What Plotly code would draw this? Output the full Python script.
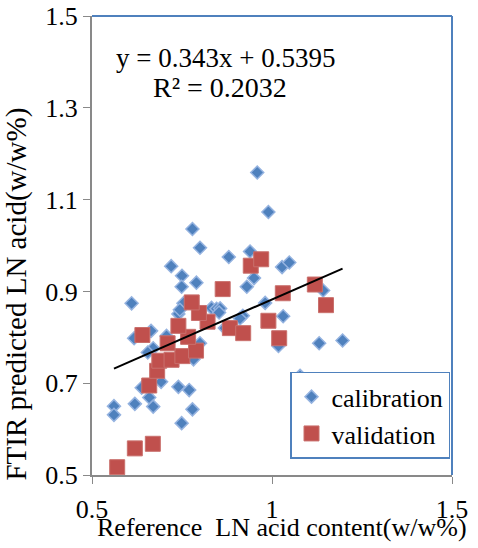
import plotly.graph_objects as go

# Calibration set (reference, predicted)
cal_x = [0.959, 0.990, 0.779, 0.800, 0.880, 0.939, 0.720, 1.028, 1.048, 0.750,
         0.950, 0.790, 0.749, 0.930, 1.142, 0.610, 0.754, 0.981, 0.832, 0.846,
         0.856, 0.740, 0.853, 0.919, 1.031, 0.911, 0.869, 0.664, 0.617, 0.707,
         0.800, 0.670, 0.655, 0.782, 1.018, 1.131, 1.196, 0.692, 0.638, 0.740,
         0.770, 0.659, 0.561, 0.561, 0.619, 0.670, 0.779, 0.749, 1.078, 0.744]
cal_y = [1.159, 1.073, 1.036, 0.995, 0.975, 0.987, 0.955, 0.953, 0.963, 0.934,
         0.929, 0.919, 0.910, 0.910, 0.902, 0.874, 0.874, 0.875, 0.864, 0.862,
         0.863, 0.851, 0.854, 0.847, 0.846, 0.841, 0.820, 0.814, 0.798, 0.803,
         0.787, 0.776, 0.767, 0.752, 0.781, 0.787, 0.793, 0.703, 0.690, 0.692,
         0.685, 0.669, 0.650, 0.631, 0.655, 0.649, 0.643, 0.613, 0.716, 0.860]

# Validation set
val_x = [0.570, 0.619, 0.669, 0.659, 0.681, 0.687, 0.721, 0.751, 0.789, 0.710,
         0.640, 0.767, 0.740, 0.821, 0.797, 0.777, 0.863, 0.883, 0.920, 0.990,
         1.020, 0.941, 0.970, 1.030, 1.119, 1.150]
val_y = [0.517, 0.558, 0.568, 0.695, 0.727, 0.749, 0.751, 0.759, 0.771, 0.787,
         0.805, 0.801, 0.825, 0.834, 0.853, 0.876, 0.905, 0.820, 0.809, 0.836,
         0.798, 0.956, 0.970, 0.896, 0.915, 0.870]

# Trendline of calibration set
slope = 0.343
intercept = 0.5395
r2 = 0.2032
trend_x = [min(cal_x), max(cal_x)]
trend_y = [slope * v + intercept for v in trend_x]

x_ticks = [0.5, 1, 1.5]
x_tick_labels = ["0.5", "1", "1.5"]
y_ticks = [0.5, 0.7, 0.9, 1.1, 1.3, 1.5]
y_tick_labels = ["0.5", "0.7", "0.9", "1.1", "1.3", "1.5"]

FONT = "Liberation Serif"
BLUE = "#4f81bd"
RED = "#c0504d"
GRAY = "#898989"

fig = go.Figure()
fig.add_trace(go.Scatter(
    x=cal_x, y=cal_y, mode="markers", name="calibration",
    legendgroup="a",
    marker=dict(symbol="diamond", size=10, color=BLUE,
                line=dict(color="#95b3e0", width=1.5)),
))
fig.add_trace(go.Scatter(
    x=val_x, y=val_y, mode="markers", name="validation",
    legendgroup="b",
    marker=dict(symbol="square", size=15, color=RED,
                line=dict(color="#c9706d", width=1)),
))
fig.add_trace(go.Scatter(
    x=trend_x, y=trend_y, mode="lines", showlegend=False,
    line=dict(color="black", width=2),
))

fig.update_layout(
    width=478, height=548,
    margin=dict(l=92, r=26, t=16, b=73, autoexpand=False),
    paper_bgcolor="white", plot_bgcolor="white",
    font=dict(family=FONT, size=26, color="black"),
    showlegend=True,
    legend=dict(
        x=0.55, y=0.225, xanchor="left", yanchor="top",
        bgcolor="white", bordercolor=BLUE, borderwidth=1.5,
        font=dict(family=FONT, size=26),
        traceorder="grouped", tracegroupgap=0,
        itemsizing="trace",
    ),
    xaxis=dict(
        range=[0.5, 1.5], tickvals=x_ticks, ticktext=x_tick_labels,
        showgrid=False, zeroline=False, automargin=False,
        showline=True, linecolor=GRAY, linewidth=2,
        ticks="outside", ticklen=7, tickcolor=GRAY, tickwidth=1,
        tickfont=dict(family=FONT, size=26), ticklabelstandoff=3,
    ),
    yaxis=dict(
        range=[0.5, 1.5], tickvals=y_ticks, ticktext=y_tick_labels,
        showgrid=False, zeroline=False, automargin=False,
        showline=True, linecolor=GRAY, linewidth=2,
        ticks="outside", ticklen=7, tickcolor=GRAY, tickwidth=1,
        tickfont=dict(family=FONT, size=26),
    ),
    shapes=[
        dict(type="line", xref="paper", yref="paper", x0=0, x1=1, y0=1, y1=1,
             line=dict(color=BLUE, width=2)),
        dict(type="line", xref="paper", yref="paper", x0=1, x1=1, y0=0, y1=1,
             line=dict(color=BLUE, width=2)),
    ],
    annotations=[
        dict(text=f"y = {slope}x + {intercept}", xref="paper", yref="paper",
             x=0.372, y=0.908, showarrow=False, xanchor="center", yanchor="middle",
             font=dict(family=FONT, size=27)),
        dict(text=f"R² = {r2}", xref="paper", yref="paper",
             x=0.356, y=0.845, showarrow=False, xanchor="center", yanchor="middle",
             font=dict(family=FONT, size=28)),
        dict(text="Reference  LN acid content(w/w%)", xref="paper", yref="paper",
             x=0.528, y=-0.115, showarrow=False, xanchor="center", yanchor="middle",
             font=dict(family=FONT, size=26)),
        dict(text="FTIR predicted LN acid(w/w%)", xref="paper", yref="paper",
             x=-0.21, y=0.394, showarrow=False, xanchor="center", yanchor="middle",
             textangle=-90, font=dict(family=FONT, size=29)),
    ],
)

fig.write_html("out.html", config={"displayModeBar": False},
               post_script="document.body.style.margin='0px';")
